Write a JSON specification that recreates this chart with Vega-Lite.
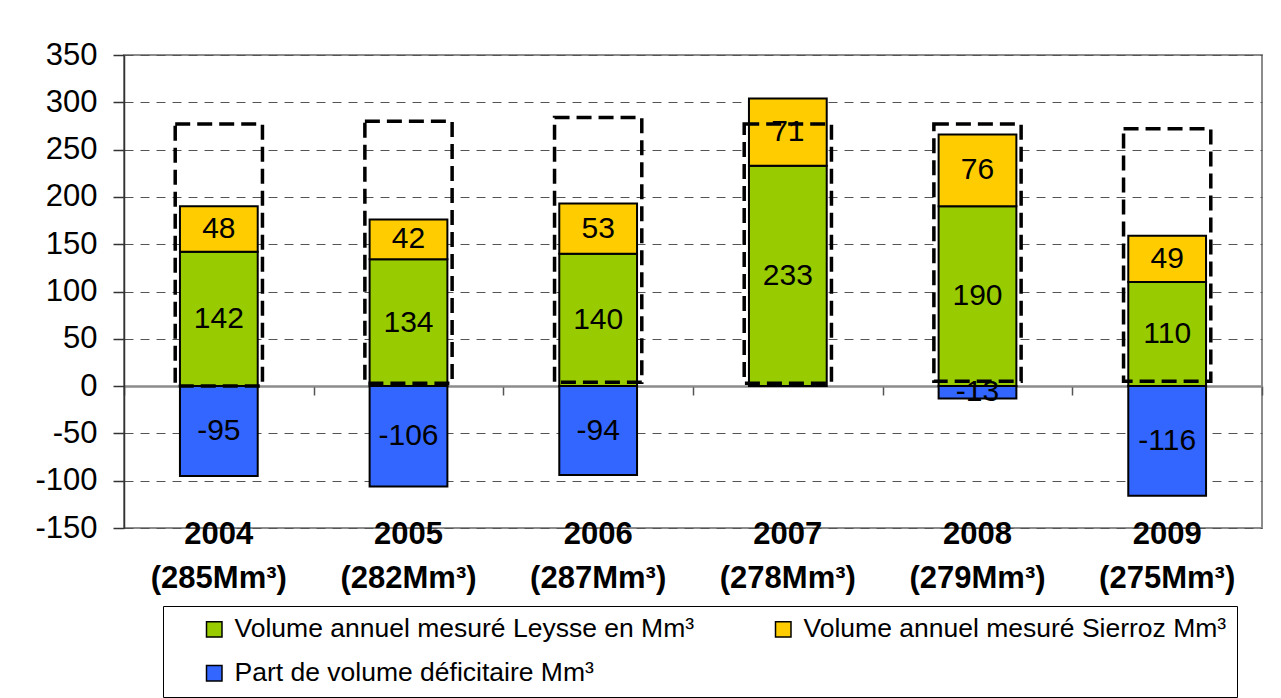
{
  "$schema": "https://vega.github.io/schema/vega-lite/v6.json",
  "width": 1138,
  "height": 473,
  "autosize": {"type": "none"},
  "padding": {"left": 124, "top": 55, "right": 19, "bottom": 170},
  "background": "white",
  "config": {
    "font": "Liberation Sans",
    "view": {"stroke": "#8c8c8c", "strokeWidth": 2},
    "axis": {"labelColor": "black"}
  },
  "datasets": {
    "segments": [
      {"annee": "2004|(285Mm³)", "serie": "Volume annuel mesuré Leysse en Mm³", "valeur": 142},
      {"annee": "2004|(285Mm³)", "serie": "Volume annuel mesuré Sierroz Mm³", "valeur": 48},
      {"annee": "2004|(285Mm³)", "serie": "Part de volume déficitaire Mm³", "valeur": -95},
      {"annee": "2005|(282Mm³)", "serie": "Volume annuel mesuré Leysse en Mm³", "valeur": 134},
      {"annee": "2005|(282Mm³)", "serie": "Volume annuel mesuré Sierroz Mm³", "valeur": 42},
      {"annee": "2005|(282Mm³)", "serie": "Part de volume déficitaire Mm³", "valeur": -106},
      {"annee": "2006|(287Mm³)", "serie": "Volume annuel mesuré Leysse en Mm³", "valeur": 140},
      {"annee": "2006|(287Mm³)", "serie": "Volume annuel mesuré Sierroz Mm³", "valeur": 53},
      {"annee": "2006|(287Mm³)", "serie": "Part de volume déficitaire Mm³", "valeur": -94},
      {"annee": "2007|(278Mm³)", "serie": "Volume annuel mesuré Leysse en Mm³", "valeur": 233},
      {"annee": "2007|(278Mm³)", "serie": "Volume annuel mesuré Sierroz Mm³", "valeur": 71},
      {"annee": "2008|(279Mm³)", "serie": "Volume annuel mesuré Leysse en Mm³", "valeur": 190},
      {"annee": "2008|(279Mm³)", "serie": "Volume annuel mesuré Sierroz Mm³", "valeur": 76},
      {"annee": "2008|(279Mm³)", "serie": "Part de volume déficitaire Mm³", "valeur": -13},
      {"annee": "2009|(275Mm³)", "serie": "Volume annuel mesuré Leysse en Mm³", "valeur": 110},
      {"annee": "2009|(275Mm³)", "serie": "Volume annuel mesuré Sierroz Mm³", "valeur": 49},
      {"annee": "2009|(275Mm³)", "serie": "Part de volume déficitaire Mm³", "valeur": -116}
    ],
    "cadres": [
      {"annee": "2004|(285Mm³)", "bas": 0, "haut": 277},
      {"annee": "2005|(282Mm³)", "bas": 3, "haut": 280},
      {"annee": "2006|(287Mm³)", "bas": 4, "haut": 284},
      {"annee": "2007|(278Mm³)", "bas": 3, "haut": 277},
      {"annee": "2008|(279Mm³)", "bas": 5, "haut": 277},
      {"annee": "2009|(275Mm³)", "bas": 5, "haut": 272}
    ]
  },
  "resolve": {"axis": {"x": "independent"}},
  "layer": [
    {
      "data": {"name": "segments"},
      "mark": {"type": "bar", "width": {"band": 0.41}, "stroke": "black", "strokeWidth": 2},
      "encoding": {
        "x": {
          "field": "annee", "type": "nominal", "sort": null,
          "scale": {"paddingInner": 0, "paddingOuter": 0},
          "axis": {
            "orient": "bottom", "title": null, "labelAngle": 0,
            "labelExpr": "split(datum.value, '|')",
            "labelFontSize": 31, "labelFontWeight": "bold",
            "labelLineHeight": 44, "labelPadding": -9,
            "ticks": false, "domain": false, "grid": false
          }
        },
        "y": {
          "field": "valeur", "type": "quantitative", "stack": "zero", "title": null,
          "scale": {"domain": [-150, 350], "nice": false},
          "axis": {
            "values": [-150, -100, -50, 0, 50, 100, 150, 200, 250, 300, 350],
            "labelExpr": "'' + datum.value",
            "labelFontSize": 31, "labelPadding": 16,
            "tickSize": 11, "tickColor": "#333", "tickWidth": 1.5,
            "domainColor": "#333", "domainWidth": 1.5,
            "grid": true,
            "gridColor": {"condition": {"test": "datum.value === 0", "value": "#8c8c8c"}, "value": "#555555"},
            "gridDash": {"condition": {"test": "datum.value === 0", "value": []}, "value": [9, 7]},
            "gridWidth": {"condition": {"test": "datum.value === 0", "value": 2}, "value": 1}
          }
        },
        "order": {"field": "serie", "sort": "ascending"},
        "color": {
          "field": "serie", "type": "nominal",
          "scale": {
            "domain": ["Volume annuel mesuré Leysse en Mm³", "Volume annuel mesuré Sierroz Mm³", "Part de volume déficitaire Mm³"],
            "range": ["#99CC00", "#FFCC00", "#3366FF"]
          },
          "legend": {
            "orient": "none", "legendX": 39, "legendY": 551,
            "title": null, "columns": 2, "columnPadding": 47, "rowPadding": 17,
            "direction": "horizontal",
            "strokeColor": "black", "fillColor": "white", "padding": 10,
            "symbolOffset": 28,
            "symbolType": "square", "symbolSize": 240,
            "symbolStrokeColor": "black", "symbolStrokeWidth": 1.5, "symbolOpacity": 1,
            "labelFontSize": 26.5, "labelOffset": 7, "labelColor": "black", "labelLimit": 700
          }
        }
      }
    },
    {
      "data": {"name": "segments"},
      "transform": [
        {"stack": "valeur", "groupby": ["annee"], "sort": [{"field": "serie", "order": "ascending"}], "as": ["y0", "y1"]},
        {"fold": ["y0", "y1"], "as": ["bord", "pos"]},
        {"aggregate": [{"op": "mean", "field": "pos", "as": "milieu"}], "groupby": ["annee", "serie", "valeur"]}
      ],
      "mark": {"type": "text", "fontSize": 30, "color": "black", "align": "center", "baseline": "middle"},
      "encoding": {
        "x": {"field": "annee", "type": "nominal", "sort": null, "axis": null},
        "y": {"field": "milieu", "type": "quantitative", "title": null},
        "text": {"field": "valeur", "type": "nominal"}
      }
    },
    {
      "data": {"name": "cadres"},
      "mark": {"type": "bar", "width": {"band": 0.46}, "fill": "transparent", "stroke": "black", "strokeWidth": 3.5, "strokeDash": [15, 7]},
      "encoding": {
        "x": {
          "field": "annee", "type": "nominal", "sort": null,
          "axis": {
            "orient": "bottom", "offset": -142, "title": null, "labels": false,
            "ticks": true, "tickBand": "extent", "tickSize": 9, "tickColor": "#555", "tickWidth": 1.5,
            "domain": true, "domainColor": "#8c8c8c", "domainWidth": 2, "grid": false
          }
        },
        "y": {"field": "bas", "type": "quantitative", "title": null},
        "y2": {"field": "haut"}
      }
    }
  ]
}
